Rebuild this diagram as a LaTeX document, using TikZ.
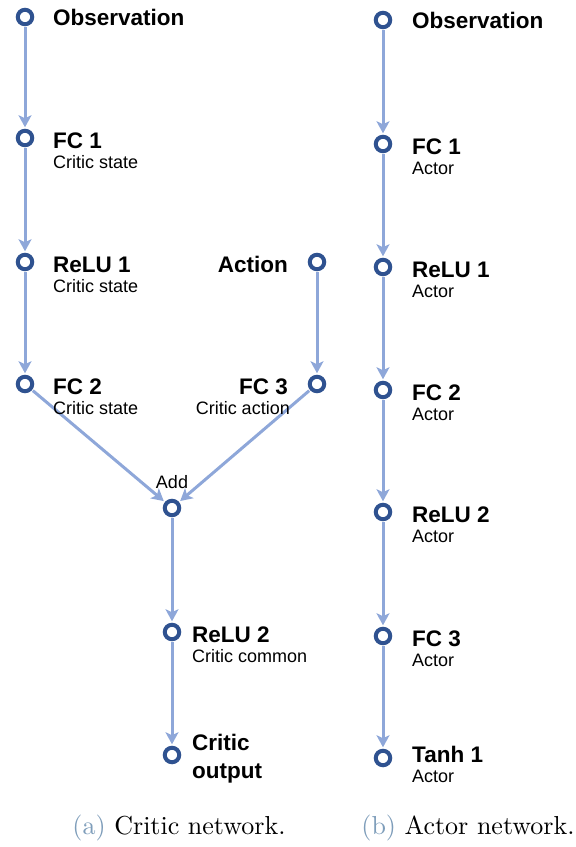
\documentclass[tikz,border=0pt]{standalone}
\usepackage{fontspec}
\newfontfamily\labfont{Liberation Sans}
\newfontfamily\capfont{lmroman10-regular.otf}
\usetikzlibrary{arrows.meta}
\definecolor{nodeblue}{HTML}{2F5290}
\definecolor{edgeblue}{HTML}{8EA7D9}
\definecolor{capblue}{HTML}{7E9DBA}
\begin{document}
\begin{tikzpicture}[x=1pt,y=-1pt,
  layer/.style={circle,draw=nodeblue,line width=4pt,fill=white,minimum size=14.5pt,inner sep=0pt},
  flow/.style={draw=edgeblue,line width=3pt,-{Stealth[length=12pt,width=13pt,inset=3pt]},shorten >=1.5pt,shorten <=1pt},
  ttl/.style={anchor=base west,font=\labfont\fontsize{22.5}{26}\selectfont\bfseries,inner sep=0pt},
  ttlr/.style={ttl,anchor=base east},
  sub/.style={anchor=base west,font=\labfont\fontsize{18}{21}\selectfont,inner sep=0pt},
  subr/.style={sub,anchor=base east},
  captext/.style={anchor=base,font=\capfont\fontsize{26}{31}\selectfont,inner sep=0pt}]
\useasboundingbox (0,0) rectangle (576,847);

% ---------------- critic network ----------------
\node[layer] (cobs)   at (25,17)  {};
\node[layer] (cfc1)   at (25,138) {};
\node[layer] (crelu1) at (25,262) {};
\node[layer] (cfc2)   at (25,384) {};
\node[layer] (cact)   at (317,262) {};
\node[layer] (cfc3)   at (317,384) {};
\node[layer] (cadd)   at (172,508) {};
\node[layer] (crelu2) at (172,632) {};
\node[layer] (cout)   at (172,755) {};

\draw[flow] (cobs) -- (cfc1);
\draw[flow] (cfc1) -- (crelu1);
\draw[flow] (crelu1) -- (cfc2);
\draw[flow] (cact) -- (cfc3);
\draw[flow] (cfc2) -- (cadd);
\draw[flow] (cfc3) -- (cadd);
\draw[flow] (cadd) -- (crelu2);
\draw[flow] (crelu2) -- (cout);

\node[ttl] (tcobs) at (53,25) {Observation};
\node[ttl] (tcfc1) at (53,148) {FC 1};
\node[sub] (scfc1) at (53,168) {Critic state};
\node[ttl] (tcrelu1) at (53,272) {ReLU 1};
\node[sub] (screlu1) at (53,292) {Critic state};
\node[ttl] (tcfc2) at (53,394) {FC 2};
\node[sub] (scfc2) at (53,414) {Critic state};
\node[ttlr] (tcact) at (288,272) {Action};
\node[ttlr] (tcfc3) at (288,394) {FC 3};
\node[subr] (scfc3) at (290,414) {Critic action};
\node[sub,anchor=base] (tcadd) at (172,488) {Add};
\node[ttl] (tcrelu2) at (192,642) {ReLU 2};
\node[sub] (screlu2) at (192,662) {Critic common};
\node[ttl] (tcout1) at (192,750) {Critic};
\node[ttl] (tcout2) at (192,778) {output};

% ---------------- actor network ----------------
\node[layer] (aobs)   at (383,20)  {};
\node[layer] (afc1)   at (383,144) {};
\node[layer] (arelu1) at (383,267) {};
\node[layer] (afc2)   at (383,390) {};
\node[layer] (arelu2) at (383,512) {};
\node[layer] (afc3)   at (383,636) {};
\node[layer] (atanh)  at (383,758) {};

\draw[flow] (aobs) -- (afc1);
\draw[flow] (afc1) -- (arelu1);
\draw[flow] (arelu1) -- (afc2);
\draw[flow] (afc2) -- (arelu2);
\draw[flow] (arelu2) -- (afc3);
\draw[flow] (afc3) -- (atanh);

\node[ttl] (taobs) at (412,28) {Observation};
\node[ttl] (tafc1) at (412,154) {FC 1};
\node[sub] (safc1) at (412,174) {Actor};
\node[ttl] (tarelu1) at (412,277) {ReLU 1};
\node[sub] (sarelu1) at (412,297) {Actor};
\node[ttl] (tafc2) at (412,400) {FC 2};
\node[sub] (safc2) at (412,420) {Actor};
\node[ttl] (tarelu2) at (412,522) {ReLU 2};
\node[sub] (sarelu2) at (412,542) {Actor};
\node[ttl] (tafc3) at (412,646) {FC 3};
\node[sub] (safc3) at (412,666) {Actor};
\node[ttl] (tatanh) at (412,762) {Tanh 1};
\node[sub] (satanh) at (412,782) {Actor};

% ---------------- captions ----------------
\node[captext] (capa) at (179,834) {\textcolor{capblue}{(a)} Critic network.};
\node[captext] (capb) at (468,834) {\textcolor{capblue}{(b)} Actor network.};
\end{tikzpicture}
\end{document}
